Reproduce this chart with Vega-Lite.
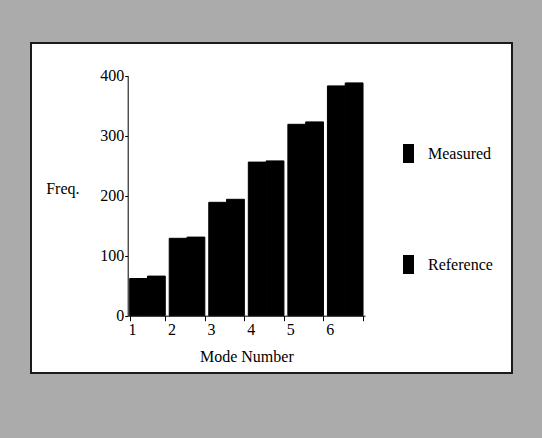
{
  "$schema": "https://vega.github.io/schema/vega-lite/v6.json",
  "width": 481,
  "height": 330,
  "autosize": {"type": "none"},
  "padding": {"left": 31, "top": 43, "right": 30, "bottom": 65},
  "background": "#ababab",
  "config": {
    "font": "Liberation Serif",
    "view": {"fill": "white", "stroke": "#1a1a1a", "strokeWidth": 2},
    "axis": {"grid": false, "domainColor": "black", "tickColor": "black", "labelColor": "black", "titleColor": "black", "labelFont": "Liberation Serif", "titleFont": "Liberation Serif", "titleFontWeight": "normal"},
    "legend": {"labelFont": "Liberation Serif", "labelColor": "black"}
  },
  "data": {
    "values": [
      {"mode": "1", "series": "Measured", "freq": 62},
      {"mode": "1", "series": "Reference", "freq": 66},
      {"mode": "2", "series": "Measured", "freq": 129},
      {"mode": "2", "series": "Reference", "freq": 131},
      {"mode": "3", "series": "Measured", "freq": 189},
      {"mode": "3", "series": "Reference", "freq": 194},
      {"mode": "4", "series": "Measured", "freq": 256},
      {"mode": "4", "series": "Reference", "freq": 258},
      {"mode": "5", "series": "Measured", "freq": 319},
      {"mode": "5", "series": "Reference", "freq": 323},
      {"mode": "6", "series": "Measured", "freq": 383},
      {"mode": "6", "series": "Reference", "freq": 388}
    ]
  },
  "mark": {"type": "bar", "stroke": "black", "strokeWidth": 1},
  "encoding": {
    "x": {
      "field": "mode",
      "type": "ordinal",
      "scale": {"type": "band", "range": [96.7, 334], "paddingInner": 0.1, "paddingOuter": 0.05},
      "axis": {
        "orient": "bottom",
        "offset": -57.3,
        "labelAngle": 0,
        "tickBand": "extent",
        "labelAlign": "left",
        "labelOffset": -19.5,
        "labelBaseline": "top",
        "labelPadding": 1,
        "tickSize": 5,
        "labelFontSize": 16,
        "title": "Mode Number",
        "titleFontSize": 16,
        "titleY": 41,
        "titleBaseline": "middle"
      }
    },
    "xOffset": {"field": "series", "type": "nominal", "sort": ["Measured", "Reference"], "scale": {"paddingInner": 0, "paddingOuter": 0}},
    "y": {
      "field": "freq",
      "type": "quantitative",
      "scale": {"domain": [0, 400], "range": [272.7, 32.7], "nice": false},
      "axis": {
        "orient": "left",
        "offset": -96.7,
        "values": [0, 100, 200, 300, 400],
        "tickSize": 3,
        "labelPadding": 1,
        "labelFontSize": 16,
        "title": "Freq.",
        "titleFontSize": 16,
        "titleAngle": 0,
        "titleAlign": "left",
        "titleBaseline": "middle",
        "titleX": -82,
        "titleY": 145
      }
    },
    "color": {
      "field": "series",
      "type": "nominal",
      "sort": ["Measured", "Reference"],
      "scale": {"range": ["#000000", "#000000"]},
      "legend": {
        "title": null,
        "orient": "none",
        "legendX": 368,
        "legendY": 101,
        "direction": "vertical",
        "rowPadding": 92,
        "symbolType": "M-0.58,-1H0.58V1H-0.58Z",
        "symbolSize": 361,
        "symbolStrokeWidth": 0,
        "symbolOpacity": 1,
        "labelFontSize": 16,
        "labelOffset": 10
      }
    }
  }
}
